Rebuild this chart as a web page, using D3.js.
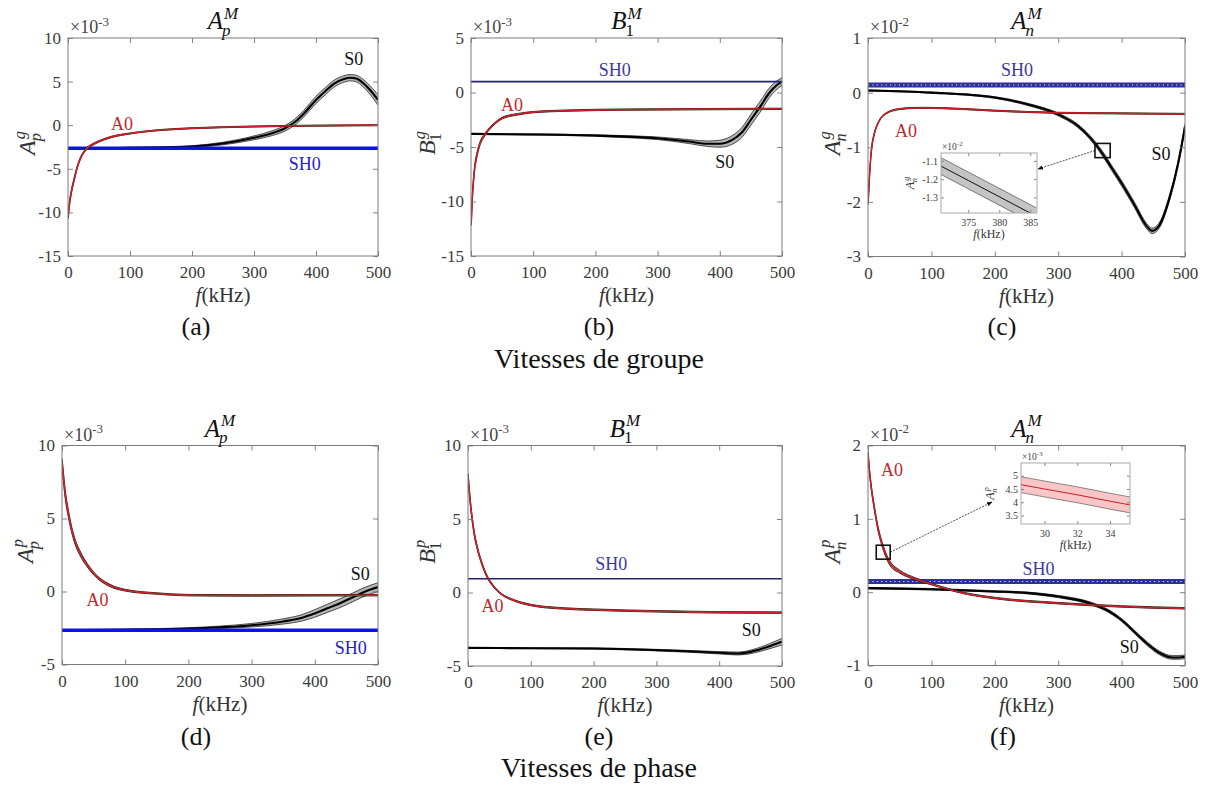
<!DOCTYPE html>
<html><head><meta charset="utf-8">
<script src="https://cdn.jsdelivr.net/npm/d3@7"></script>
<style>body{margin:0;background:#fff}svg{display:block}</style>
</head><body>
<svg id="chart" width="1222" height="785"></svg>
<script>
// ---------------- DATA ----------------
const xTicks = [0, 100, 200, 300, 400, 500];

// (a) group velocity, A_p (x1e-3)
const yTicksA = [-15, -10, -5, 0, 5, 10];
const fA0a = [0.5, 2, 5, 10, 15, 20, 30, 40, 50, 70, 100, 150, 200, 300, 400, 500];
const vA0a = [-10.3, -9.2, -7.8, -6.2, -4.8, -3.8, -2.7, -2.2, -1.85, -1.35, -0.95, -0.55, -0.35, -0.15, -0.05, 0];
const wA0a = [0.4, 0.3, 0.25, 0.2, 0.15, 0.12, 0.1, 0.1, 0.08, 0.08, 0.06, 0.06, 0.06, 0.06, 0.06, 0.06];
const fS0a = [0, 50, 100, 150, 200, 250, 300, 330, 350, 370, 380, 400, 415, 430, 445, 455, 465, 475, 485, 500];
const vS0a = [-2.65, -2.63, -2.6, -2.55, -2.45, -2.1, -1.45, -0.9, -0.35, 0.6, 1.3, 2.9, 3.9, 4.8, 5.3, 5.45, 5.35, 4.9, 4.2, 2.9];
const wS0a = [0.05, 0.05, 0.06, 0.08, 0.1, 0.15, 0.22, 0.28, 0.32, 0.36, 0.38, 0.42, 0.42, 0.4, 0.38, 0.36, 0.38, 0.42, 0.48, 0.6];
const sh0a = -2.65;

// (b) group velocity, B_1 (x1e-3)
const yTicksB = [-15, -10, -5, 0, 5];
const fA0b = [0.5, 2, 5, 10, 15, 20, 25, 30, 40, 50, 75, 100, 150, 200, 300, 400, 500];
const vA0b = [-11.8, -9.8, -7.4, -5.6, -4.6, -4.05, -3.65, -3.3, -2.75, -2.35, -2.0, -1.8, -1.67, -1.6, -1.55, -1.52, -1.5];
const wA0b = [0.4, 0.3, 0.25, 0.2, 0.15, 0.12, 0.1, 0.1, 0.08, 0.08, 0.07, 0.06, 0.06, 0.06, 0.06, 0.06, 0.06];
const fS0b = [0, 100, 200, 250, 300, 350, 380, 400, 420, 435, 450, 465, 480, 490, 500];
const vS0b = [-3.8, -3.85, -3.95, -4.05, -4.2, -4.5, -4.7, -4.7, -4.35, -3.7, -2.5, -1.3, 0.0, 0.6, 1.0];
const wS0b = [0.05, 0.05, 0.07, 0.09, 0.12, 0.18, 0.25, 0.32, 0.4, 0.45, 0.5, 0.5, 0.45, 0.4, 0.35];
const sh0b = 1.0;

// (c) group velocity, A_n (x1e-2)
const yTicksC = [-3, -2, -1, 0, 1];
const fA0c = [0.3, 2, 5, 10, 15, 20, 30, 50, 75, 100, 150, 200, 300, 400, 500];
const vA0c = [-2.0, -1.6, -1.1, -0.75, -0.58, -0.47, -0.37, -0.3, -0.28, -0.28, -0.3, -0.33, -0.37, -0.38, -0.39];
const wA0c = [0.05, 0.04, 0.03, 0.02, 0.015, 0.01, 0.01, 0.01, 0.01, 0.01, 0.01, 0.01, 0.01, 0.01, 0.01];
const fS0c = [0, 100, 200, 250, 300, 330, 350, 370, 385, 400, 420, 440, 448, 460, 475, 490, 500];
const vS0c = [0.04, 0.0, -0.09, -0.21, -0.4, -0.6, -0.82, -1.12, -1.39, -1.66, -2.05, -2.45, -2.53, -2.42, -1.95, -1.25, -0.62];
const wS0c = [0.01, 0.01, 0.015, 0.02, 0.025, 0.03, 0.035, 0.045, 0.046, 0.05, 0.05, 0.05, 0.05, 0.05, 0.05, 0.05, 0.05];
const sh0c = 0.14;
// inset (c)
const inXTicksC = [375, 380, 385];
const inYTicksC = [-1.3, -1.2, -1.1];
const fInC = [370, 375, 380, 386];
const vInC = [-1.118, -1.207, -1.296, -1.403];
const wInC = [0.046, 0.046, 0.046, 0.046];

// (d) phase velocity, A_p (x1e-3)
const yTicksD = [-5, 0, 5, 10];
const fA0d = [0.3, 2, 5, 10, 15, 20, 30, 40, 50, 75, 100, 150, 200, 300, 400, 500];
const vA0d = [8.7, 7.95, 6.7, 5.35, 4.3, 3.5, 2.5, 1.8, 1.24, 0.43, 0.09, -0.14, -0.25, -0.27, -0.26, -0.25];
const wA0d = [0.4, 0.35, 0.3, 0.25, 0.2, 0.18, 0.15, 0.12, 0.1, 0.08, 0.06, 0.05, 0.05, 0.05, 0.05, 0.05];
const fS0d = [0, 100, 200, 250, 300, 350, 380, 400, 420, 440, 460, 480, 500];
const vS0d = [-2.65, -2.62, -2.54, -2.45, -2.31, -2.05, -1.8, -1.5, -1.15, -0.8, -0.4, 0.0, 0.3];
const wS0d = [0.03, 0.04, 0.06, 0.08, 0.12, 0.18, 0.22, 0.26, 0.28, 0.3, 0.3, 0.3, 0.3];
const sh0d = -2.65;

// (e) phase velocity, B_1 (x1e-3)
const yTicksE = [-5, 0, 5, 10];
const fA0e = [0.3, 2, 5, 10, 15, 20, 30, 40, 50, 75, 100, 150, 200, 300, 400, 500];
const vA0e = [7.8, 6.9, 5.6, 4.0, 3.0, 2.24, 1.12, 0.45, 0.0, -0.56, -0.85, -1.08, -1.17, -1.28, -1.35, -1.37];
const wA0e = [0.3, 0.25, 0.2, 0.15, 0.12, 0.1, 0.08, 0.06, 0.05, 0.05, 0.05, 0.05, 0.05, 0.05, 0.05, 0.05];
const fS0e = [0, 100, 200, 300, 350, 400, 430, 450, 470, 490, 500];
const vS0e = [-3.77, -3.79, -3.81, -3.92, -4.0, -4.1, -4.15, -4.04, -3.8, -3.5, -3.35];
const wS0e = [0.03, 0.03, 0.04, 0.05, 0.06, 0.08, 0.1, 0.12, 0.15, 0.2, 0.22];
const sh0e = 0.94;

// (f) phase velocity, A_n (x1e-2)
const yTicksF = [-1, 0, 1, 2];
const fA0f = [0.3, 2, 5, 10, 15, 20, 25, 30, 35, 50, 75, 100, 150, 200, 300, 400, 500];
const vA0f = [1.87, 1.68, 1.44, 1.15, 0.9, 0.72, 0.58, 0.47, 0.39, 0.28, 0.18, 0.11, -0.01, -0.08, -0.15, -0.195, -0.22];
const wA0f = [0.04, 0.035, 0.03, 0.03, 0.03, 0.03, 0.03, 0.03, 0.03, 0.02, 0.015, 0.01, 0.01, 0.01, 0.01, 0.01, 0.01];
const fS0f = [0, 100, 200, 250, 300, 350, 380, 400, 420, 440, 460, 480, 490, 500];
const vS0f = [0.055, 0.04, 0.01, -0.01, -0.06, -0.15, -0.26, -0.38, -0.54, -0.70, -0.83, -0.89, -0.89, -0.88];
const wS0f = [0.01, 0.01, 0.01, 0.012, 0.015, 0.018, 0.02, 0.02, 0.022, 0.025, 0.025, 0.025, 0.025, 0.025];
const sh0f = 0.145;
// inset (f) (x1e-3)
const inXTicksF = [30, 32, 34];
const inYTicksF = [3.5, 4, 4.5, 5];
const fInF = [28.5, 30, 32, 34, 35.3];
const vInF = [4.67, 4.50, 4.28, 4.04, 3.89];
const wInF = [0.3, 0.3, 0.3, 0.3, 0.3];

const captions = ["(a)", "(b)", "(c)", "(d)", "(e)", "(f)"];
const rowTitles = ["Vitesses de groupe", "Vitesses de phase"];

// ---------------- DRAWING ----------------
const FONT = "Liberation Serif, Times New Roman, serif";
const svg = d3.select("#chart");
const RED = "#cc1f26";

function mathText(parent, x, y, o) {
  const g = parent.append("g").attr("transform", `translate(${x},${y})` + (o.rotate ? " rotate(-90)" : ""));
  const inner = g.append("g");
  const fill = o.fill || "#111";
  const t = inner.append("text").attr("font-family", FONT).attr("font-size", o.size)
    .attr("font-style", "italic").attr("fill", fill).text(o.base);
  const w = t.node().getComputedTextLength();
  const s = o.size * 0.68;
  let mw = 0;
  if (o.sup) {
    const ts = inner.append("text").attr("x", w + 1).attr("y", -o.size * 0.42)
      .attr("font-family", FONT).attr("font-size", s).attr("fill", fill)
      .attr("font-style", o.supIt === false ? "normal" : "italic").text(o.sup);
    mw = Math.max(mw, ts.node().getComputedTextLength() + 1);
  }
  if (o.sub) {
    const tb = inner.append("text").attr("x", w - o.size * 0.04).attr("y", o.size * 0.26)
      .attr("font-family", FONT).attr("font-size", s).attr("fill", fill)
      .attr("font-style", o.subIt === false ? "normal" : "italic").text(o.sub);
    mw = Math.max(mw, tb.node().getComputedTextLength());
  }
  if (o.anchor === "middle") inner.attr("transform", `translate(${-(w + mw) / 2},0)`);
}

function expLabel(parent, x, y, e, size) {
  const t = parent.append("text").attr("x", x).attr("y", y).attr("font-family", FONT)
    .attr("font-size", size).attr("fill", "#444");
  t.append("tspan").text("\u00d710");
  t.append("tspan").attr("dy", -size * 0.4).attr("font-size", size * 0.72).text(e);
}

function fLabel(parent, x, y, size) {
  const t = parent.append("text").attr("x", x).attr("y", y).attr("font-family", FONT)
    .attr("font-size", size).attr("fill", "#333").attr("text-anchor", "middle");
  t.append("tspan").attr("font-style", "italic").text("f");
  t.append("tspan").text("(kHz)");
}

function drawBand(g, x, y, f, v, w, st) {
  const pts = f.map((fi, i) => ({ f: fi, v: v[i], w: w[i] }));
  const area = d3.area().x(d => x(d.f)).y0(d => y(d.v - d.w)).y1(d => y(d.v + d.w)).curve(d3.curveMonotoneX);
  const lineHi = d3.line().x(d => x(d.f)).y(d => y(d.v + d.w)).curve(d3.curveMonotoneX);
  const lineLo = d3.line().x(d => x(d.f)).y(d => y(d.v - d.w)).curve(d3.curveMonotoneX);
  const lineC = d3.line().x(d => x(d.f)).y(d => y(d.v)).curve(d3.curveMonotoneX);
  g.append("path").attr("d", area(pts)).attr("fill", st.fill);
  g.append("path").attr("d", lineHi(pts)).attr("fill", "none").attr("stroke", st.edge).attr("stroke-width", st.ew);
  g.append("path").attr("d", lineLo(pts)).attr("fill", "none").attr("stroke", st.edge).attr("stroke-width", st.ew);
  g.append("path").attr("d", lineC(pts)).attr("fill", "none").attr("stroke", st.center).attr("stroke-width", st.cw);
}

function drawAxes(g, x, y, p, xt, yt, tickLen, fs, padX, padY) {
  const fmt = d => String(d);
  const ax = g.append("g").attr("transform", `translate(0,${p.y1})`)
    .call(d3.axisBottom(x).tickValues(xt).tickSize(-tickLen).tickPadding(padX).tickFormat(fmt));
  const ay = g.append("g").attr("transform", `translate(${p.x0},0)`)
    .call(d3.axisLeft(y).tickValues(yt).tickSize(-tickLen).tickPadding(padY).tickFormat(fmt));
  const at = g.append("g").attr("transform", `translate(0,${p.y0})`)
    .call(d3.axisTop(x).tickValues(xt).tickSize(-tickLen).tickFormat(""));
  const ar = g.append("g").attr("transform", `translate(${p.x1},0)`)
    .call(d3.axisRight(y).tickValues(yt).tickSize(-tickLen).tickFormat(""));
  [ax, ay, at, ar].forEach(a => {
    a.attr("font-family", FONT).attr("font-size", fs);
    a.select(".domain").remove();
    a.selectAll("line").attr("stroke", "#777").attr("stroke-width", 0.9);
    a.selectAll("text").attr("font-family", FONT).attr("font-size", fs).attr("fill", "#3a3a3a");
  });
  g.append("rect").attr("x", p.x0).attr("y", p.y0).attr("width", p.x1 - p.x0).attr("height", p.y1 - p.y0)
    .attr("fill", "none").attr("stroke", "#7a7a7a").attr("stroke-width", 1);
}

const S0style = { fill: "#b4b4b4", edge: "#2a2a2a", ew: 0.8, center: "#000", cw: 2.1 };
const A0style = { fill: "#d98a8a", edge: "#1a0a0a", ew: 0.9, center: RED, cw: 1.5 };

function drawSH0(g, x, y, val, kind) {
  const x0 = x.range()[0], x1 = x.range()[1], yy = y(val);
  if (kind === "thick") {
    g.append("line").attr("x1", x0).attr("x2", x1).attr("y1", yy).attr("y2", yy)
      .attr("stroke", "#0a14e6").attr("stroke-width", 3.4);
  } else if (kind === "thin") {
    g.append("line").attr("x1", x0).attr("x2", x1).attr("y1", yy).attr("y2", yy)
      .attr("stroke", "#23236e").attr("stroke-width", 1.6);
  } else {
    g.append("line").attr("x1", x0).attr("x2", x1).attr("y1", yy).attr("y2", yy)
      .attr("stroke", "#2c309a").attr("stroke-width", 5);
    g.append("line").attr("x1", x0).attr("x2", x1).attr("y1", yy).attr("y2", yy)
      .attr("stroke", "#e8e8ff").attr("stroke-width", 1).attr("stroke-dasharray", "1.2,3.2");
  }
}

function drawPanel(p, idx) {
  const x = d3.scaleLinear().domain([0, 500]).range([p.x0, p.x1]);
  const y = d3.scaleLinear().domain(p.yDom).range([p.y1, p.y0]);
  const g = svg.append("g");
  const cid = "clip" + idx;
  svg.append("clipPath").attr("id", cid).append("rect")
    .attr("x", p.x0).attr("y", p.y0).attr("width", p.x1 - p.x0).attr("height", p.y1 - p.y0);
  const plot = g.append("g").attr("clip-path", `url(#${cid})`);
  drawBand(plot, x, y, p.S0[0], p.S0[1], p.S0[2], S0style);
  drawSH0(plot, x, y, p.sh0, p.shKind);
  drawBand(plot, x, y, p.A0[0], p.A0[1], p.A0[2], A0style);

  drawAxes(g, x, y, p, xTicks, p.yTicks, 5, 17, 10, 7);

  // series labels (data coordinates)
  const lab = (txt, pos, col) => g.append("text").attr("x", x(pos[0])).attr("y", y(pos[1]))
    .attr("text-anchor", "middle").attr("font-family", FONT).attr("font-size", 18).attr("fill", col).text(txt);
  lab("A0", p.labA0, "#c0282d");
  lab("S0", p.labS0, "#111");
  lab("SH0", p.labSH0, p.shKind === "thick" ? "#2222cc" : "#3a3aa0");

  // exponent, title, axis labels
  expLabel(g, p.x0 + 2, p.y0 - 5, p.exp, 18);
  mathText(g, (p.x0 + p.x1) / 2, p.y0 - 9, { base: p.title[0], sub: p.title[1], subIt: p.title[2], sup: "M", size: 25, anchor: "middle" });
  mathText(g, p.x0 - p.ylOff, (p.y0 + p.y1) / 2 - 4, { base: p.ylab[0], sub: p.ylab[1], subIt: p.ylab[2], sup: p.ylab[3], size: 24, anchor: "middle", rotate: true, fill: "#333" });
  fLabel(g, (p.x0 + p.x1) / 2, p.y1 + 46, 21);
  g.append("text").attr("x", p.capX).attr("y", p.capY).attr("text-anchor", "middle")
    .attr("font-family", FONT).attr("font-size", 26).attr("fill", "#111").text(captions[idx]);

  if (p.inset) drawInset(g, x, y, p.inset);
}

function drawInset(g, mx, my, ins) {
  const sx0 = mx(ins.sq[0]), sx1 = mx(ins.sq[1]), sy0 = my(ins.sq[3]), sy1 = my(ins.sq[2]);
  const b = ins.box;
  const ix = d3.scaleLinear().domain(ins.xDom).range([b.x0, b.x1]);
  const iy = d3.scaleLinear().domain(ins.yDom).range([b.y1, b.y0]);
  const defsId = "arr" + ins.id;
  svg.append("defs").append("marker").attr("id", defsId).attr("viewBox", "0 0 10 10").attr("refX", 9).attr("refY", 5)
    .attr("markerWidth", 7).attr("markerHeight", 7).attr("orient", "auto-start-reverse")
    .append("path").attr("d", "M0,1 L10,5 L0,9 z").attr("fill", "#111");
  const start = ins.arrowFromRight ? [sx1, (sy0 + sy1) / 2] : [sx0, (sy0 + sy1) / 2];
  g.append("line").attr("x1", start[0]).attr("y1", start[1]).attr("x2", ins.arrowEnd[0]).attr("y2", ins.arrowEnd[1])
    .attr("stroke", "#222").attr("stroke-width", 0.8).attr("stroke-dasharray", "2,1.2").attr("marker-end", `url(#${defsId})`);
  g.append("rect").attr("x", sx0).attr("y", sy0).attr("width", sx1 - sx0).attr("height", sy1 - sy0)
    .attr("fill", "none").attr("stroke", "#111").attr("stroke-width", 1.6);

  g.append("rect").attr("x", b.x0).attr("y", b.y0).attr("width", b.x1 - b.x0).attr("height", b.y1 - b.y0).attr("fill", "#fff");
  const cid = "clipIn" + ins.id;
  svg.append("clipPath").attr("id", cid).append("rect")
    .attr("x", b.x0).attr("y", b.y0).attr("width", b.x1 - b.x0).attr("height", b.y1 - b.y0);
  const pg = g.append("g").attr("clip-path", `url(#${cid})`);
  drawBand(pg, ix, iy, ins.data[0], ins.data[1], ins.data[2], ins.style);
  const ag = g.append("g");
  drawAxes(ag, ix, iy, b, ins.xTicks, ins.yTicks, 3, 10, 6, 3);
  ag.selectAll("rect").attr("stroke", "#aaa");
  expLabel(g, b.x0 + 1, b.y0 - 3, ins.exp, 9.5);
  mathText(g, b.x0 - ins.ylOff, (b.y0 + b.y1) / 2, { base: "A", sub: "n", sup: ins.sup, size: 12, anchor: "middle", rotate: true, fill: "#333" });
  fLabel(g, (b.x0 + b.x1) / 2, b.y1 + 25, 12);
}

const panels = [
  { x0: 68, x1: 378, y0: 38, y1: 256, yDom: [-15, 10], yTicks: yTicksA, exp: "-3",
    title: ["A", "p", true], ylab: ["A", "p", true, "g"], ylOff: 33,
    A0: [fA0a, vA0a, wA0a], S0: [fS0a, vS0a, wS0a], sh0: sh0a, shKind: "thick",
    labA0: [87, -0.54], labS0: [461, 6.9], labSH0: [382, -5.1], capX: 196, capY: 335 },
  { x0: 471, x1: 782, y0: 38, y1: 256, yDom: [-15, 5], yTicks: yTicksB, exp: "-3",
    title: ["B", "1", false], ylab: ["B", "1", false, "g"], ylOff: 36,
    A0: [fA0b, vA0b, wA0b], S0: [fS0b, vS0b, wS0b], sh0: sh0b, shKind: "thin",
    labA0: [66, -1.74], labS0: [408, -6.9], labSH0: [231, 1.53], capX: 599, capY: 335 },
  { x0: 868, x1: 1185, y0: 38, y1: 256.5, yDom: [-3, 1], yTicks: yTicksC, exp: "-2",
    title: ["A", "n", true], ylab: ["A", "n", true, "g"], ylOff: 28,
    A0: [fA0c, vA0c, wA0c], S0: [fS0c, vS0c, wS0c], sh0: sh0c, shKind: "dotted",
    labA0: [60, -0.82], labS0: [462, -1.24], labSH0: [235, 0.31], capX: 1002, capY: 335,
    inset: { id: "c", sq: [358, 382, -1.19, -0.93], box: { x0: 941, x1: 1037, y0: 153, y1: 213 },
      xDom: [370.6, 386.1], yDom: [-1.385, -1.057], xTicks: inXTicksC, yTicks: inYTicksC,
      data: [fInC, vInC, wInC], style: { fill: "#c4c4c4", edge: "#333", ew: 0.6, center: "#111", cw: 1 },
      exp: "-2", sup: "g", ylOff: 27, arrowFromRight: false, arrowEnd: [1038, 169] } },
  { x0: 62, x1: 378, y0: 445.5, y1: 664.5, yDom: [-5, 10], yTicks: yTicksD, exp: "-3",
    title: ["A", "p", true], ylab: ["A", "p", true, "p"], ylOff: 29,
    A0: [fA0d, vA0d, wA0d], S0: [fS0d, vS0d, wS0d], sh0: sh0d, shKind: "thick",
    labA0: [56, -1.01], labS0: [472, 0.78], labSH0: [457, -4.26], capX: 196, capY: 745 },
  { x0: 468, x1: 782, y0: 445.5, y1: 666, yDom: [-5, 10], yTicks: yTicksE, exp: "-3",
    title: ["B", "1", false], ylab: ["B", "1", false, "p"], ylOff: 33,
    A0: [fA0e, vA0e, wA0e], S0: [fS0e, vS0e, wS0e], sh0: sh0e, shKind: "thin",
    labA0: [39, -1.35], labS0: [451, -2.96], labSH0: [228, 1.52], capX: 599, capY: 745 },
  { x0: 868, x1: 1185, y0: 445.5, y1: 665.5, yDom: [-1, 2], yTicks: yTicksF, exp: "-2",
    title: ["A", "n", true], ylab: ["A", "n", true, "p"], ylOff: 28,
    A0: [fA0f, vA0f, wA0f], S0: [fS0f, vS0f, wS0f], sh0: sh0f, shKind: "dotted",
    labA0: [38, 1.58], labS0: [412, -0.83], labSH0: [269, 0.24], capX: 1003, capY: 745,
    inset: { id: "f", sq: [13, 35, 0.45, 0.64], box: { x0: 1021, x1: 1130, y0: 463, y1: 524 },
      xDom: [28.56, 35.22], yDom: [3.18, 5.48], xTicks: inXTicksF, yTicks: inYTicksF,
      data: [fInF, vInF, wInF], style: { fill: "#f8c6c6", edge: "#444", ew: 0.6, center: RED, cw: 1 },
      exp: "-3", sup: "p", ylOff: 27, arrowFromRight: true, arrowEnd: [992, 502] } }
];

panels.forEach((p, i) => drawPanel(p, i));

svg.append("text").attr("x", 599).attr("y", 368).attr("text-anchor", "middle")
  .attr("font-family", FONT).attr("font-size", 28).attr("fill", "#111").text(rowTitles[0]);
svg.append("text").attr("x", 599).attr("y", 777).attr("text-anchor", "middle")
  .attr("font-family", FONT).attr("font-size", 28).attr("fill", "#111").text(rowTitles[1]);
</script>
</body></html>
